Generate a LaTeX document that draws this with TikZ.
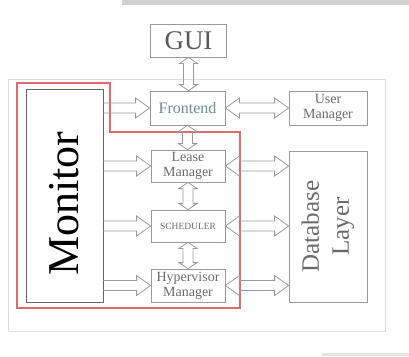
\documentclass[tikz,border=0pt]{standalone}
\usepackage{fontspec}
\setmainfont{Liberation Serif}
\usetikzlibrary{calc}
\definecolor{boxgray}{HTML}{9A9A9A}
\definecolor{txtgray}{HTML}{6A6A6A}
\definecolor{framegray}{HTML}{DEDEDE}
\definecolor{redline}{HTML}{E06A6E}
\definecolor{tealgray}{HTML}{6E8C88}
% block (hollow) arrows between named points
\newcommand\hsingle[2]{\draw[blk] let \p1=(#1), \p2=(#2) in
  (\x1,\y1+5pt) -- (\x2-14pt,\y1+5pt) -- (\x2-14pt,\y1+10pt) -- (\x2,\y1)
  -- (\x2-14pt,\y1-10pt) -- (\x2-14pt,\y1-5pt) -- (\x1,\y1-5pt);}
\newcommand\hdouble[2]{\draw[blk] let \p1=(#1), \p2=(#2) in
  (\x1,\y1) -- (\x1+14pt,\y1+10pt) -- (\x1+14pt,\y1+5pt) -- (\x2-14pt,\y1+5pt)
  -- (\x2-14pt,\y1+10pt) -- (\x2,\y1) -- (\x2-14pt,\y1-10pt) -- (\x2-14pt,\y1-5pt)
  -- (\x1+14pt,\y1-5pt) -- (\x1+14pt,\y1-10pt) -- cycle;}
% #1 = upper point, #2 = lower point
\newcommand\vdouble[2]{\draw[blk] let \p1=(#1), \p2=(#2) in
  (\x1,\y1) -- (\x1+9pt,\y1-6pt) -- (\x1+5pt,\y1-6pt) -- (\x1+5pt,\y2+6pt)
  -- (\x1+9pt,\y2+6pt) -- (\x1,\y2) -- (\x1-9pt,\y2+6pt) -- (\x1-5pt,\y2+6pt)
  -- (\x1-5pt,\y1-6pt) -- (\x1-9pt,\y1-6pt) -- cycle;}
\begin{document}
\begin{tikzpicture}[x=1pt,y=-1pt,
  box/.style={draw=boxgray, line width=0.8pt, text=txtgray, align=center, inner sep=0pt},
  blk/.style={draw=boxgray, line width=0.8pt, line join=miter},
]
\useasboundingbox (0,0) rectangle (409,356);
% page remnants
\fill[gray!35] (122,0) rectangle (409,5);
\fill[gray!20] (322,353) rectangle (409,356);
% outer frame
\draw[framegray, line width=0.8pt] (8,79) rectangle (385,331);
% red region
\draw[redline, line width=1.6pt, line join=miter] (17,83) -- (110,83) -- (110,132) -- (240,132) -- (240,308) -- (17,308) -- cycle;
% nodes
\node[box, minimum width=76pt, minimum height=33pt, text=black!65, font=\fontsize{27}{27}\selectfont] (gui) at (188.5,40.5) {GUI};
\node[box, minimum width=75pt, minimum height=34pt, text=tealgray, font=\fontsize{16}{16}\selectfont] (fe) at (187.5,108) {Frontend};
\node[box, minimum width=78pt, minimum height=34pt, font=\fontsize{14}{15}\selectfont] (um) at (328,108) {User\\Manager};
\node[box, minimum width=74pt, minimum height=32pt, font=\fontsize{14}{15}\selectfont] (lm) at (188,166) {Lease\\Manager};
\node[box, minimum width=74pt, minimum height=32pt, font=\fontsize{9.5}{10}\selectfont] (sch) at (188,226) {SCHEDULER};
\node[box, minimum width=74pt, minimum height=33pt, font=\fontsize{14}{15}\selectfont] (hm) at (188,285.5) {Hypervisor\\Manager};
\node[box, minimum width=151pt, minimum height=78pt, rotate=90, font=\fontsize{25}{30}\selectfont] (db) at (328,226.5) {Database\\Layer};
\node[box, draw=black!60, minimum width=213pt, minimum height=77pt, rotate=90, text=black, font=\fontsize{44}{44}\selectfont] (mon) at (64.5,195.5) {Monitor\hspace*{16pt}};
% connectors
\hsingle{mon.south |- fe.west}{fe.west}
\hsingle{mon.south |- lm.west}{lm.west}
\hsingle{mon.south |- sch.west}{sch.west}
\hsingle{mon.south |- hm.west}{hm.west}
\hdouble{fe.east}{um.west}
\hdouble{lm.east}{db.north |- lm.east}
\hdouble{sch.east}{db.north |- sch.east}
\hdouble{hm.east}{db.north |- hm.east}
\vdouble{gui.south}{fe.north}
\vdouble{fe.south}{lm.north}
\vdouble{lm.south}{sch.north}
\vdouble{sch.south}{hm.north}
\end{tikzpicture}
\end{document}
